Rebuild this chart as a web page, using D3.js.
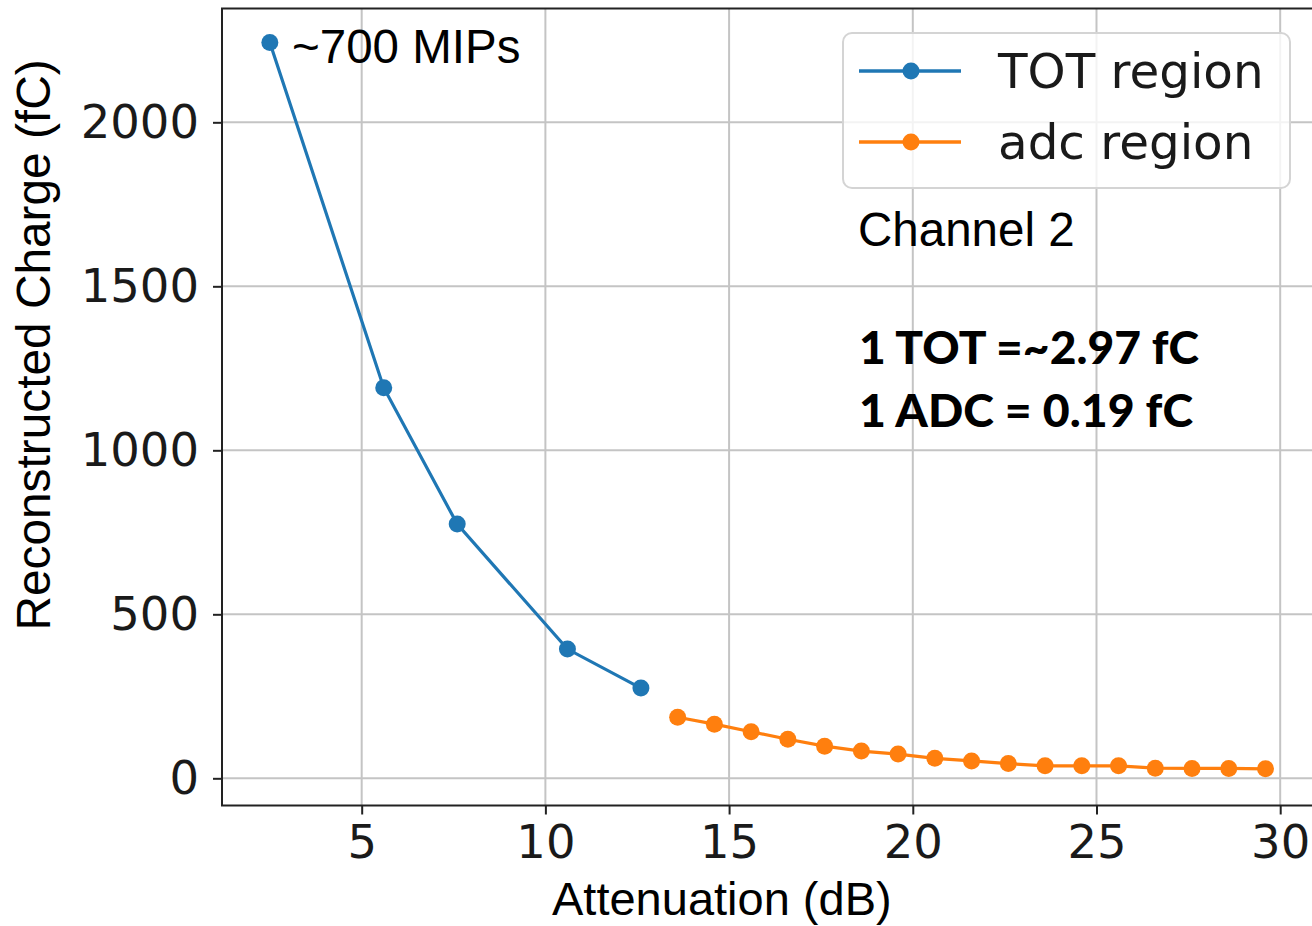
<!DOCTYPE html>
<html>
<head>
<meta charset="utf-8">
<script src="https://cdn.jsdelivr.net/npm/d3@7/dist/d3.min.js"></script>
<style>
  html, body { margin: 0; padding: 0; background: #fff; }
  svg { display: block; }
</style>
</head>
<body>
<svg id="chart" width="1312" height="926"></svg>
<script>
// ---- data ----
const totX = [2.5, 5.6, 7.6, 10.6, 12.6];
const totY = [2243, 1191, 775, 394, 275];
const adcX = [13.6, 14.6, 15.6, 16.6, 17.6, 18.6, 19.6, 20.6, 21.6, 22.6, 23.6, 24.6, 25.6, 26.6, 27.6, 28.6, 29.6];
const adcY = [186, 165, 142, 119, 98, 83, 74, 61, 53, 45, 38, 38, 38, 31, 30, 30, 29];
const xTicks = [5, 10, 15, 20, 25, 30];
const yTicks = [0, 500, 1000, 1500, 2000];
const seriesNames = ["TOT region", "adc region"];
const seriesColors = ["#1f77b4", "#ff7f0e"];
const xLabel = "Attenuation (dB)";
const yLabel = "Reconstructed Charge (fC)";
const annotTop = "~700 MIPs";
const annotChannel = "Channel 2";
const annotLines = ["1 TOT =~2.97 fC", "1 ADC = 0.19 fC"];

// ---- layout ----
const svg = d3.select("#chart");
const L = 222, R = 1314, T = 8.5, B = 805.5;
const x = d3.scaleLinear().domain([1.198, 30.92]).range([L, R]);
const y = d3.scaleLinear().domain([-82.9, 2347]).range([B, T]);

const tickFont = "'DejaVu Sans', sans-serif";
const arial = "'Liberation Sans', Arial, sans-serif";

// grid
const grid = svg.append("g").attr("stroke", "#c4c4c4").attr("stroke-width", 2);
grid.selectAll("line.gx").data(xTicks).join("line")
  .attr("x1", d => x(d)).attr("x2", d => x(d)).attr("y1", T).attr("y2", B);
grid.selectAll("line.gy").data(yTicks).join("line")
  .attr("x1", L).attr("x2", R).attr("y1", d => y(d)).attr("y2", d => y(d));

// axes
const xAxis = d3.axisBottom(x).tickValues(xTicks).tickSize(9).tickPadding(10).tickFormat(d3.format("d"));
const yAxis = d3.axisLeft(y).tickValues(yTicks).tickSize(9).tickPadding(14).tickFormat(d3.format("d"));
const gx = svg.append("g").attr("transform", `translate(0,${B})`).call(xAxis);
const gy = svg.append("g").attr("transform", `translate(${L},0)`).call(yAxis);
[gx, gy].forEach(g => {
  g.select(".domain").remove();
  g.selectAll(".tick line").attr("stroke", "#222").attr("stroke-width", 2);
  g.selectAll(".tick text").attr("fill", "#1a1a1a").style("font-family", tickFont).style("font-size", "46.5px");
});
gx.selectAll(".tick text").attr("dy", "0.71em");

// frame
svg.append("rect").attr("x", L).attr("y", T).attr("width", R - L).attr("height", B - T)
  .attr("fill", "none").attr("stroke", "#222").attr("stroke-width", 2);

// series
const line = d3.line().x(d => x(d[0])).y(d => y(d[1]));
const series = [
  d3.zip(totX, totY),
  d3.zip(adcX, adcY)
];
series.forEach((pts, i) => {
  svg.append("path").datum(pts).attr("d", line).attr("fill", "none")
    .attr("stroke", seriesColors[i]).attr("stroke-width", 3.2);
  svg.append("g").selectAll("circle").data(pts).join("circle")
    .attr("cx", d => x(d[0])).attr("cy", d => y(d[1])).attr("r", 8.5)
    .attr("fill", seriesColors[i]);
});

// legend
const lg = svg.append("g");
lg.append("rect").attr("x", 843).attr("y", 33).attr("width", 447).attr("height", 155)
  .attr("rx", 9).attr("fill", "rgba(255,255,255,0.8)").attr("stroke", "#d4d4d4").attr("stroke-width", 2);
const rowsY = [71, 142];
seriesNames.forEach((name, i) => {
  lg.append("line").attr("x1", 859).attr("x2", 961).attr("y1", rowsY[i]).attr("y2", rowsY[i])
    .attr("stroke", seriesColors[i]).attr("stroke-width", 3.5);
  lg.append("circle").attr("cx", 911).attr("cy", rowsY[i]).attr("r", 8.5).attr("fill", seriesColors[i]);
  lg.append("text").attr("x", 998).attr("y", rowsY[i] + 17).text(name)
    .style("font-family", tickFont).style("font-size", "48.4px").attr("fill", "#1a1a1a");
});

// annotations
svg.append("text").attr("x", 292).attr("y", 63).text(annotTop)
  .style("font-family", arial).style("font-size", "47.5px").attr("fill", "#000");
svg.append("text").attr("x", 858).attr("y", 246).text(annotChannel)
  .style("font-family", arial).style("font-size", "47.5px").attr("fill", "#000");
const boldY = [364, 427];
const boldW = [340, 334];
annotLines.forEach((t, i) => {
  svg.append("text").attr("x", 859).attr("y", boldY[i]).text(t)
    .attr("textLength", boldW[i]).attr("lengthAdjust", "spacingAndGlyphs")
    .style("font-family", "Lato, 'Open Sans', sans-serif").style("font-weight", "900")
    .style("font-size", "46px").attr("fill", "#000");
});

// axis labels
svg.append("text").attr("x", 552).attr("y", 915).text(xLabel)
  .style("font-family", arial).style("font-size", "47px").attr("fill", "#000");
svg.append("text").attr("transform", "translate(50,345) rotate(-90)")
  .attr("text-anchor", "middle").text(yLabel)
  .style("font-family", arial).style("font-size", "47.8px").attr("fill", "#000");
</script>
</body>
</html>
